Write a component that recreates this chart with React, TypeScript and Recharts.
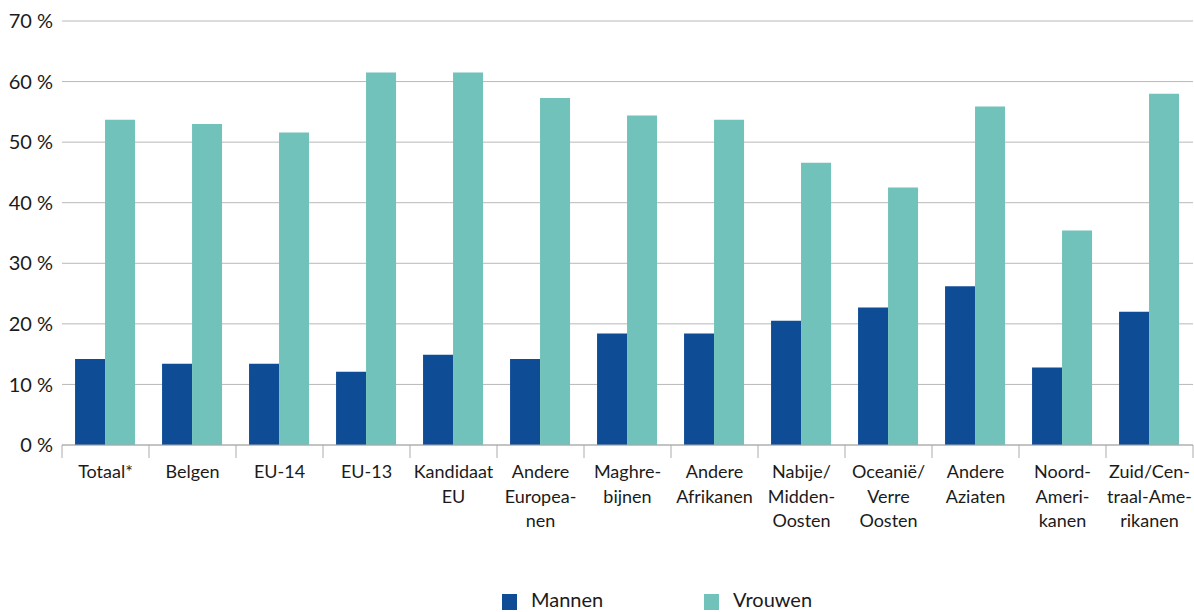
import { BarChart, Bar, XAxis, YAxis, CartesianGrid, Legend } from 'recharts';

const categories = [
  'Totaal*',
  'Belgen',
  'EU-14',
  'EU-13',
  'Kandidaat\nEU',
  'Andere\nEuropea-\nnen',
  'Maghre-\nbijnen',
  'Andere\nAfrikanen',
  'Nabije/\nMidden-\nOosten',
  'Oceanië/\nVerre\nOosten',
  'Andere\nAziaten',
  'Noord-\nAmeri-\nkanen',
  'Zuid/Cen-\ntraal-Ame-\nrikanen',
];

const mannen = [14.2, 13.4, 13.4, 12.1, 14.9, 14.2, 18.4, 18.4, 20.5, 22.7, 26.2, 12.8, 22.0];
const vrouwen = [53.7, 53.0, 51.6, 61.5, 61.5, 57.3, 54.4, 53.7, 46.6, 42.5, 55.9, 35.4, 58.0];

const yTicks = [0, 10, 20, 30, 40, 50, 60, 70];

const seriesNames = { mannen: 'Mannen', vrouwen: 'Vrouwen' };
const MEN_COLOR = '#0f4c96';
const WOMEN_COLOR = '#71c2ba';
const FONT = 'Lato, "Open Sans", sans-serif';
const TEXT = '#1b1b1b';
const AXIS_GRAY = '#ababab';

const data = categories.map((name, i) => ({
  name,
  mannen: mannen[i],
  vrouwen: vrouwen[i],
}));

// category tick: label lines plus separator ticks at band edges
function CategoryTick(props: any) {
  const { x, y, payload, index, width, visibleTicksCount } = props;
  const count = visibleTicksCount || categories.length;
  const half = payload?.offset ?? width / count / 2;
  const lines = String(payload.value).split('\n');
  return (
    <g>
      <line x1={x - half} x2={x - half} y1={y} y2={y + 13} stroke={AXIS_GRAY} strokeWidth={1} />
      {index === count - 1 && (
        <line x1={x + half} x2={x + half} y1={y} y2={y + 13} stroke={AXIS_GRAY} strokeWidth={1} />
      )}
      <text x={x} y={y + 33} textAnchor="middle" fontFamily={FONT} fontSize={18} fill={TEXT}>
        {lines.map((line, i) => (
          <tspan key={i} x={x} dy={i === 0 ? 0 : 24.5}>
            {line}
          </tspan>
        ))}
      </text>
    </g>
  );
}

function LegendContent() {
  const items = [
    { label: seriesNames.mannen, color: MEN_COLOR, left: 502 },
    { label: seriesNames.vrouwen, color: WOMEN_COLOR, left: 704 },
  ];
  return (
    <div style={{ position: 'relative', width: 1194, height: 30 }}>
      {items.map((it) => (
        <div key={it.label}>
          <div
            style={{
              position: 'absolute',
              left: it.left,
              top: 12,
              width: 15,
              height: 16,
              background: it.color,
            }}
          />
          <div
            style={{
              position: 'absolute',
              left: it.left + 29,
              top: 7,
              fontFamily: FONT,
              fontSize: 20,
              lineHeight: '20px',
              color: TEXT,
              whiteSpace: 'nowrap',
            }}
          >
            {it.label}
          </div>
        </div>
      ))}
    </div>
  );
}

export default function App() {
  return (
    <div style={{ position: 'absolute', left: 0, top: 0, width: 1194, height: 612, background: '#fff' }}>
      <BarChart
        width={1194}
        height={612}
        data={data}
        margin={{ top: 21, right: 1, left: 0, bottom: 0 }}
        barCategoryGap="15%"
        barGap={0}
      >
        <CartesianGrid vertical={false} stroke="#b8b8b8" strokeWidth={1} />
        <XAxis
          dataKey="name"
          interval={0}
          height={137}
          tickLine={false}
          tickSize={0}
          tickMargin={0}
          axisLine={{ stroke: AXIS_GRAY, strokeWidth: 1 }}
          tick={<CategoryTick />}
        />
        <YAxis
          width={62}
          domain={[0, 70]}
          ticks={yTicks}
          interval={0}
          axisLine={false}
          tickLine={false}
          tickSize={0}
          tickMargin={9}
          tickFormatter={(v: number) => `${v} %`}
          tick={{ fontFamily: FONT, fontSize: 20, fill: TEXT }}
        />
        <Legend verticalAlign="bottom" height={30} wrapperStyle={{ left: 0, width: 1194 }} content={<LegendContent />} />
        <Bar dataKey="mannen" name={seriesNames.mannen} fill={MEN_COLOR} isAnimationActive={false} />
        <Bar dataKey="vrouwen" name={seriesNames.vrouwen} fill={WOMEN_COLOR} isAnimationActive={false} />
      </BarChart>
    </div>
  );
}
